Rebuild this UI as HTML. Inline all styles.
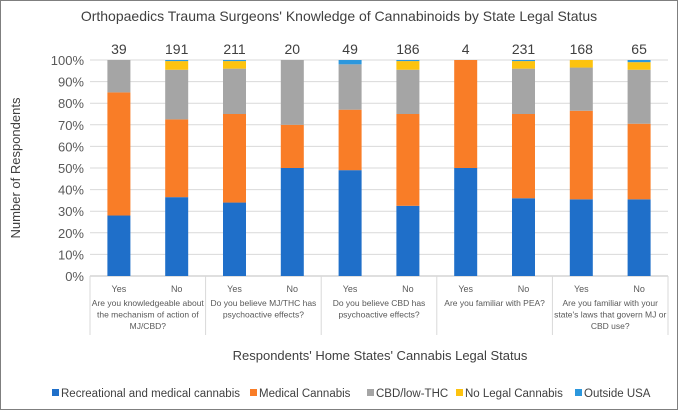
<!DOCTYPE html>
<html><head><meta charset="utf-8"><style>
body{margin:0;background:#fff;}
svg{display:block;font-family:"Liberation Sans",sans-serif;}
</style></head><body>
<svg id="chart" width="679" height="411">
<rect x="0.5" y="0.5" width="677" height="409" fill="#fff" stroke="#7f7f7f"/>
<text x="339" y="21" text-anchor="middle" font-size="14" fill="#404040">Orthopaedics Trauma Surgeons' Knowledge of Cannabinoids by State Legal Status</text>
<text transform="translate(20,168) rotate(-90)" text-anchor="middle" font-size="13" fill="#404040">Number of Respondents</text>
<text x="380" y="360" text-anchor="middle" font-size="13" fill="#404040">Respondents' Home States' Cannabis Legal Status</text>
<g id="grid"></g><g id="bars"></g><g id="labels"></g><g id="legend"></g>
</svg>
<script>
const categories=["Yes","No","Yes","No","Yes","No","Yes","No","Yes","No"];
const counts=[39,191,211,20,49,186,4,231,168,65];
const questions=[["Are you knowledgeable about","the mechanism of action of","MJ/CBD?"],["Do you believe MJ/THC has","psychoactive effects?"],["Do you believe CBD has","psychoactive effects?"],["Are you familiar with PEA?"],["Are you familiar with your","state's laws that govern MJ or","CBD use?"]];
const seriesNames=["Recreational and medical cannabis","Medical Cannabis","CBD/low-THC","No Legal Cannabis","Outside USA"];
const colors=["#1f6fc9","#f97d27","#a5a5a5","#fdc30f","#2b97dd"];
const recreational=[28,36.5,34,50,49,32.5,50,36,35.5,35.5];
const medical=[57,36,41,20,28,42.5,50,39,41,35];
const cbd=[15,23,21,30,21,20.5,0,21,20,25];
const noLegal=[0,4,3.5,0,0,4,0,3.5,3.5,3.5];
const outside=[0,0.5,0.5,0,2,0.5,0,0.5,0,1];
const yTicks=[0,10,20,30,40,50,60,70,80,90,100];
const series=[recreational,medical,cbd,noLegal,outside];
const NS="http://www.w3.org/2000/svg";
const x0=90,x1=668,y0=276,yTop=60;
const slot=(x1-x0)/categories.length;
const y=v=>y0-(v/100)*(y0-yTop);
const xc=i=>x0+slot*(i+0.5);
function mk(t,a,p){const e=document.createElementNS(NS,t);for(const k in a)e.setAttribute(k,a[k]);p.appendChild(e);return e;}
const grid=document.getElementById('grid'),bars=document.getElementById('bars'),labels=document.getElementById('labels'),legend=document.getElementById('legend');
yTicks.forEach(t=>{
 const l=mk('line',{x1:x0,x2:x1,y1:y(t),y2:y(t),stroke:t===0?'#bfbfbf':'#d9d9d9'},grid);
 
 
 const tx=mk('text',{x:x0-6,y:y(t)+5,'text-anchor':'end','font-size':13,fill:'#595959'},labels);
 tx.textContent=t+'%';
 
 
});
for(let g=0;g<=questions.length;g++){
 const gx=x0+g*slot*2;
 const l=mk('line',{x1:gx,x2:gx,y1:y0,y2:335,stroke:'#d9d9d9'},grid);
 
 
}
categories.forEach((c,i)=>{
 let acc=0;
 series.forEach((s,k)=>{
  const v=s[i]; if(v<=0) return;
  const r=mk('rect',{x:xc(i)-11.5,width:23,y:y(acc+v),height:y(acc)-y(acc+v),fill:colors[k]},bars);
  
  
  acc+=v;
 });
 const n=mk('text',{x:xc(i),y:54,'text-anchor':'middle','font-size':14,fill:'#404040'},labels);
 n.textContent=counts[i];
 
 
 const cl=mk('text',{x:xc(i),y:292,'text-anchor':'middle','font-size':9,fill:'#595959'},labels);
 cl.textContent=c;
 
 
});
questions.forEach((q,g)=>{
 q.forEach((line,j)=>{
  const t=mk('text',{x:x0+slot*(2*g+1),y:306+j*11.5,'text-anchor':'middle','font-size':8.5,fill:'#595959'},labels);
  t.textContent=line;
  
  
 });
});
const lx=[52,250,367,456,575];
seriesNames.forEach((s,k)=>{
 const r=mk('rect',{x:lx[k],y:389,width:7,height:7,fill:colors[k]},legend);
 
 
 const t=mk('text',{x:lx[k]+9,y:397,'font-size':11.5,fill:'#404040'},legend);
 t.textContent=s;
 
 
});
</script>
</body></html>
